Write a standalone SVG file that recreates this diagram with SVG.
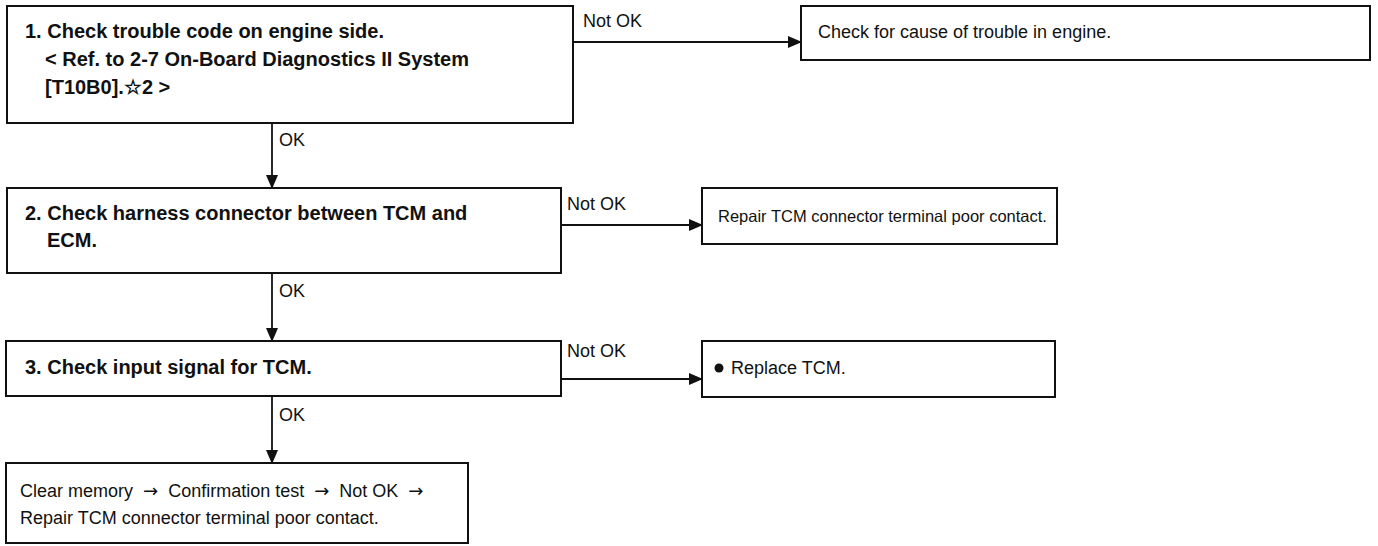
<svg xmlns="http://www.w3.org/2000/svg" width="1378" height="546" viewBox="0 0 1378 546">
<style>
.box{fill:#fff;stroke:#111;stroke-width:2}
.b{font-family:"Liberation Sans",Arial,sans-serif;font-weight:bold;font-size:20px;fill:#111}
.r{font-family:"Liberation Sans",Arial,sans-serif;font-size:18px;fill:#111}
.ar{font-family:"DejaVu Sans",sans-serif}
.ln{stroke:#111;stroke-width:1.8;fill:none}
</style>
<defs>
<marker id="ah" markerWidth="14" markerHeight="12" refX="13" refY="6" orient="auto" markerUnits="userSpaceOnUse">
<path d="M0,0 L14,6 L0,12 Z" fill="#111"/>
</marker>
</defs>
<rect width="1378" height="546" fill="#fff"/>
<g id="connectors">
<line class="ln" x1="574" y1="42" x2="801" y2="42" marker-end="url(#ah)"/>
<line class="ln" x1="561" y1="225" x2="702" y2="225" marker-end="url(#ah)"/>
<line class="ln" x1="561" y1="379" x2="702" y2="379" marker-end="url(#ah)"/>
<line class="ln" x1="272" y1="123" x2="272" y2="188" marker-end="url(#ah)"/>
<line class="ln" x1="272" y1="273" x2="272" y2="341" marker-end="url(#ah)"/>
<line class="ln" x1="272" y1="396" x2="272" y2="463" marker-end="url(#ah)"/>
<text class="r" x="583" y="27">Not OK</text>
<text class="r" x="567" y="210">Not OK</text>
<text class="r" x="567" y="357">Not OK</text>
<text class="r" x="279" y="146">OK</text>
<text class="r" x="279" y="297">OK</text>
<text class="r" x="279" y="421">OK</text>
</g>
<g id="step1">
<rect class="box" x="7" y="6" width="566" height="117"/>
<text class="b" x="25" y="38">1.  Check trouble code on engine side.</text>
<text class="b" x="45" y="66">&lt; Ref. to 2-7 On-Board Diagnostics II System</text>
<text class="b" x="45" y="94">[T10B0].☆2 &gt;</text>
</g>
<g id="result1">
<rect class="box" x="801" y="6" width="569" height="54"/>
<text class="r" x="818" y="38">Check for cause of trouble in engine.</text>
</g>
<g id="step2">
<rect class="box" x="7" y="188" width="554" height="85"/>
<text class="b" x="25" y="220">2.  Check harness connector between TCM and</text>
<text class="b" x="47" y="247">ECM.</text>
</g>
<g id="result2">
<rect class="box" x="702" y="188" width="355" height="56"/>
<text class="r" x="718" y="222" style="font-size:16.5px">Repair TCM connector terminal poor contact.</text>
</g>
<g id="step3">
<rect class="box" x="6" y="341" width="555" height="55"/>
<text class="b" x="25" y="374">3.  Check input signal for TCM.</text>
</g>
<g id="result3">
<rect class="box" x="702" y="341" width="353" height="56"/>
<circle cx="719" cy="368" r="4.5" fill="#111"/>
<text class="r" x="731" y="374">Replace TCM.</text>
</g>
<g id="final">
<rect class="box" x="6" y="463" width="462" height="80"/>
<text class="r" x="20" y="497">Clear memory <tspan class="ar" dx="5">→</tspan><tspan dx="5"> Confirmation test </tspan><tspan class="ar" dx="5">→</tspan><tspan dx="5"> Not OK </tspan><tspan class="ar" dx="5">→</tspan></text>
<text class="r" x="20" y="524">Repair TCM connector terminal poor contact.</text>
</g>
</svg>
